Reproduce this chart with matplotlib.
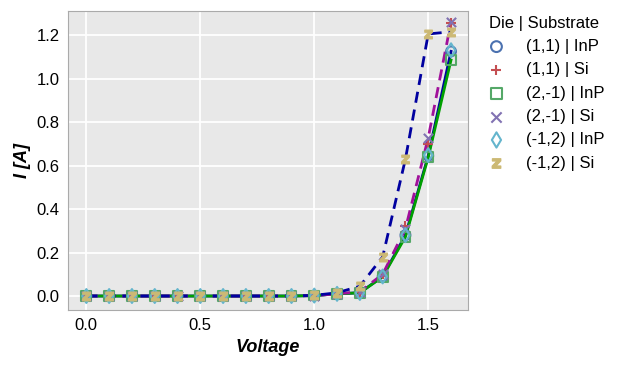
import numpy as np
import matplotlib
matplotlib.use("Agg")
import matplotlib.pyplot as plt

plt.rcParams['font.family'] = ['Liberation Sans', 'DejaVu Sans']

# Voltage sweep
voltage = np.round(np.arange(0, 1.61, 0.1), 2)

# Current per die / substrate
i_11_inp = [0, 0, 0, 0, 0, 0, 0, 0, 0, 0, 0.002, 0.010, 0.015, 0.090, 0.280, 0.645, 1.125]
i_11_si = [0, 0, 0, 0, 0, 0, 0, 0, 0, 0, 0.002, 0.010, 0.020, 0.100, 0.320, 0.700, 1.255]
i_2m1_inp = [0, 0, 0, 0, 0, 0, 0, 0, 0, 0, 0.002, 0.010, 0.015, 0.088, 0.272, 0.638, 1.085]
i_2m1_si = [0, 0, 0, 0, 0, 0, 0, 0, 0, 0, 0.002, 0.010, 0.020, 0.100, 0.310, 0.728, 1.260]
i_m12_inp = [0, 0, 0, 0, 0, 0, 0, 0, 0, 0, 0.002, 0.010, 0.014, 0.090, 0.280, 0.648, 1.130]
i_m12_si = [0, 0, 0, 0, 0, 0, 0, 0, 0, 0, 0.003, 0.015, 0.045, 0.180, 0.630, 1.205, 1.215]

labels = ['(1,1) | InP', '(1,1) | Si', '(2,-1) | InP', '(2,-1) | Si', '(-1,2) | InP', '(-1,2) | Si']
series = [i_11_inp, i_11_si, i_2m1_inp, i_2m1_si, i_m12_inp, i_m12_si]
colores = ['#4C72B0', '#C44E52', '#55A868', '#8172B2', '#64B5CD', '#CCB974']
marcadores = ['o', '+', 's', 'x', 'd', r'$\mathbf{z}$']

fig = plt.figure(figsize=(6.25, 3.71), dpi=100)
ax = fig.add_axes([0.109, 0.164, 0.64, 0.806])
ax.set_facecolor('#E8E8E8')
for s in ax.spines.values():
    s.set_color('#AAAAAA')
ax.grid(True, color='white', linewidth=1.3)
ax.set_axisbelow(True)

# Lines
ax.plot(voltage, i_11_inp, color='#0000A0', linewidth=2, zorder=2)
ax.plot(voltage, i_2m1_inp, color='#00A000', linewidth=2, zorder=2)
ax.plot(voltage, i_2m1_si, color='#A0109A', linewidth=2, linestyle=(0, (4, 2.5)), zorder=2)
ax.plot(voltage, i_m12_si, color='#0000A0', linewidth=2, linestyle=(0, (4, 2.5)), zorder=2)

# Markers
for y, lab, c, m in zip(series, labels, colores, marcadores):
    if m in ['+', 'x']:
        ax.scatter(voltage, y, marker=m, color=c, s=45, linewidths=1.5, label=lab, zorder=3)
    elif m.startswith('$'):
        ax.scatter(voltage, y, marker=m, color=c, s=38, label=lab, zorder=3)
    else:
        ax.scatter(voltage, y, marker=m, facecolors='none', edgecolors=c, s=50,
                   linewidths=1.5, label=lab, zorder=3)

ax.set_xlim(-0.08, 1.675)
ax.set_ylim(-0.065, 1.31)
ax.set_xticks([0.0, 0.5, 1.0, 1.5])
ax.set_yticks([0.0, 0.2, 0.4, 0.6, 0.8, 1.0, 1.2])
ax.tick_params(length=0, labelsize=12, pad=6)
ax.set_xlabel('Voltage', fontsize=13, fontweight='bold', fontstyle='italic')
ax.set_ylabel('I [A]', fontsize=13, fontweight='bold', fontstyle='italic')

ax.legend(title='Die | Substrate', loc='upper left', bbox_to_anchor=(1.0, 1.035),
          frameon=False, fontsize=12, title_fontsize=12, handletextpad=1.0,
          handlelength=1.6, labelspacing=0.5, scatterpoints=1, markerscale=1.1)

fig.savefig('out.png', dpi=100)
